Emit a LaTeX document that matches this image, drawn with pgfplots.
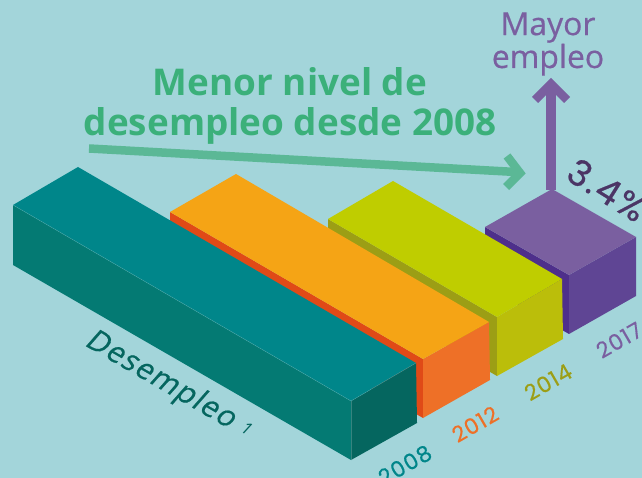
\documentclass[border=0pt]{standalone}
\usepackage{pgfplots}
\pgfplotsset{compat=1.18}
\usepackage{fontspec}
\setmainfont{Open Sans}
\newfontfamily\yr[LetterSpace=5,FakeBold=0.4]{Poppins}
\newfontfamily\pct[LetterSpace=6,FakeBold=0.6]{Poppins}
\newfontfamily\semi[FakeBold=0.5]{Open Sans}
\newfontfamily\desem[LetterSpace=4,FakeBold=0.5,FakeSlant=0.2]{Open Sans}
\definecolor{bg}{HTML}{A3D5DA}
\definecolor{tealT}{HTML}{00868A}
\definecolor{tealL}{HTML}{047A73}
\definecolor{tealR}{HTML}{05665F}
\definecolor{orT}{HTML}{F5A415}
\definecolor{orL}{HTML}{E04A17}
\definecolor{orR}{HTML}{EE7027}
\definecolor{olT}{HTML}{BFCD00}
\definecolor{olL}{HTML}{9C9E15}
\definecolor{olR}{HTML}{BBBE0A}
\definecolor{puT}{HTML}{7A5FA0}
\definecolor{puL}{HTML}{4E2F8B}
\definecolor{puR}{HTML}{5F4594}
\definecolor{grT}{HTML}{3BB07A}
\definecolor{grA}{HTML}{5BB896}
\definecolor{puD}{HTML}{4B3565}
\begin{document}
\begin{tikzpicture}[x=1bp,y=1bp]
\useasboundingbox (0,0) rectangle (642,478);
\clip (0,0) rectangle (642,478);
\begin{axis}[at={(0,0)},anchor=south west,scale only axis,width=642bp,height=478bp,
  xmin=0,xmax=642,ymin=0,ymax=478,y dir=reverse,hide axis,clip=false]
\addplot[fill=bg,draw=none] coordinates {(0,0)(642,0)(642,478)(0,478)} --cycle;
% purple bar (2017)
\addplot[fill=puL,draw=none] coordinates {(485,227)(569,275)(569,334)(485,286)} --cycle;
\addplot[fill=puR,draw=none] coordinates {(569,275)(636,237)(636,296)(569,334)} --cycle;
\addplot[fill=puT,draw=none] coordinates {(485,227)(552,189)(636,237)(569,275)} --cycle;
% olive bar (2014)
\addplot[fill=olL,draw=none] coordinates {(328,219)(497,317)(497,376)(328,278)} --cycle;
\addplot[fill=olR,draw=none] coordinates {(497,317)(562,279)(563,339)(497,376)} --cycle;
\addplot[fill=olT,draw=none] coordinates {(328,219)(393,181)(562,279)(497,317)} --cycle;
% orange bar (2012)
\addplot[fill=orL,draw=none] coordinates {(170,212)(423,359)(423,418)(170,272)} --cycle;
\addplot[fill=orR,draw=none] coordinates {(423,359)(489,322)(490,380)(423,418)} --cycle;
\addplot[fill=orT,draw=none] coordinates {(170,212)(236,174)(489,322)(423,359)} --cycle;
% teal bar (2008)
\addplot[fill=tealL,draw=none] coordinates {(13,205)(351,401)(351,460)(13,265)} --cycle;
\addplot[fill=tealR,draw=none] coordinates {(351,401)(416,363)(417,423)(351,460)} --cycle;
\addplot[fill=tealT,draw=none] coordinates {(13,205)(78,167)(416,363)(351,401)} --cycle;
\addplot[draw=white,draw opacity=0.2,line width=0.5pt] coordinates {(13,205)(351,401)(416,363)};
\addplot[draw=white,draw opacity=0.2,line width=0.5pt] coordinates {(351,401)(351,460)};
% purple arrow
\addplot[draw=puT,line width=10bp] coordinates {(551,190)(551,84)};
\addplot[draw=puT,line width=8.5bp,miter limit=10] coordinates {(535,100)(551,84)(567,100)};
% green arrow
\addplot[draw=grA,line width=8.5bp] coordinates {(89,148.5)(516,172)};
\addplot[draw=grA,line width=8.5bp,miter limit=10] coordinates {(507,156)(520,173)(506,187)};
% text
\node[text=grT,align=center,font=\fontsize{37}{41}\selectfont\bfseries] at (axis cs:290,106)
  {Menor nivel de\\desempleo desde 2008};
\node[text=puT,align=center,font=\fontsize{32}{30}\semi\selectfont] at (axis cs:548,44)
  {Mayor\\empleo};
\node[text=puD,rotate=-32,font=\fontsize{36}{36}\pct\selectfont] at (axis cs:607,190) {3.4\%};
\node[text=tealR,rotate=-30,font=\fontsize{30}{30}\desem\selectfont] at (axis cs:160,380)
  {Desempleo};
\node[text=tealR,rotate=-30,font=\fontsize{17}{17}\selectfont\itshape] at (axis cs:247,429) {1};
\node[text=tealT,rotate=30,font=\fontsize{22}{22}\yr\selectfont] at (axis cs:405,465) {2008};
\node[text=orR,rotate=30,font=\fontsize{22}{22}\yr\selectfont] at (axis cs:475,424) {2012};
\node[text=olL,rotate=30,font=\fontsize{22}{22}\yr\selectfont] at (axis cs:548,382) {2014};
\node[text=puT,rotate=30,font=\fontsize{22}{22}\yr\selectfont] at (axis cs:619,340) {2017};
\end{axis}
\end{tikzpicture}
\end{document}
